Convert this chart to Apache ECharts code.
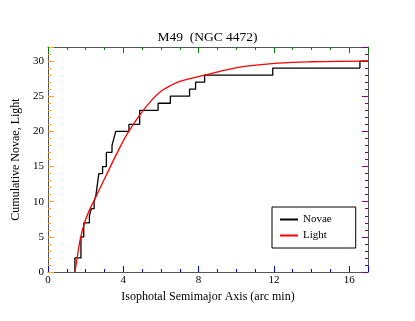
<!DOCTYPE html>
<html lang="en">
<head>
    <meta charset="utf-8">
    <title>M49 novae</title>
    <script src="https://cdn.jsdelivr.net/npm/echarts@6/dist/echarts.min.js"></script>
    <style type="text/css">
        html, body {
            width: 100%;
            height: 100%;
            margin: 0px;
            padding: 0px;
            background: #fff;
        }

        #main {
            width: 415px;
            height: 321px;
        }
    </style>
</head>
<body>
<div id="main"></div>
<script>
    // cumulative novae, step after each x
    var novaeX = [1.43, 1.43, 1.75, 1.9, 2.2, 2.3, 2.45, 2.55, 2.6, 2.7, 2.9, 3.1, 3.4, 3.5, 3.6, 4.3, 4.87, 5.85, 6.5, 7.52, 7.84, 8.32, 11.94, 16.57, 17];
    var novaeY = [0, 2, 5, 7, 8, 9, 10, 11, 12, 14, 15, 17, 18, 19, 20, 21, 23, 24, 25, 26, 27, 28, 29, 30, 30];

    // light curve (scaled to 30)
    var lightX = [1.43, 1.55, 1.7, 1.94, 2.2, 2.6, 3.1, 3.76, 4.2, 4.87, 5.5, 6.0, 6.5, 7.0, 8.3, 10.35, 12.2, 14, 17];
    var lightY = [0, 2, 4.5, 7, 8.8, 11, 13.8, 17.4, 19.6, 22.3, 24.4, 25.7, 26.5, 27.1, 28.0, 29.2, 29.7, 29.9, 30];

    function pairs(xs, ys) {
        return xs.map(function (x, i) { return [x, ys[i]]; });
    }

    var font = 'Liberation Serif';

    function tick(c) {
        return { show: true, inside: true, length: 6, lineStyle: { color: c, width: 1 } };
    }
    function minor(n, c) {
        return { show: true, splitNumber: n, length: 3, lineStyle: { color: c, width: 1 } };
    }

    var myChart = echarts.init(document.getElementById('main'));
    myChart.setOption({
        animation: false,
        title: {
            text: 'M49  (NGC 4472)',
            left: 'center',
            top: 25,
            textStyle: { fontFamily: font, fontSize: 13.5, fontWeight: 'normal', color: '#000' }
        },
        legend: {
            orient: 'vertical',
            left: 272,
            top: 207,
            padding: [7, 24, 7, 8],
            itemGap: 5,
            itemWidth: 18,
            itemHeight: 2,
            borderColor: '#000',
            borderWidth: 1,
            backgroundColor: '#fff',
            textStyle: { fontFamily: font, fontSize: 11, color: '#000' },
            data: [
                { name: 'Novae', icon: 'rect' },
                { name: 'Light', icon: 'rect' }
            ]
        },
        grid: { left: 48, right: 47, top: 47, bottom: 49 },
        xAxis: [
            {
                type: 'value', min: 0, max: 17, interval: 4,
                name: 'Isophotal Semimajor Axis (arc min)',
                nameLocation: 'middle',
                nameGap: 12,
                nameTextStyle: { fontFamily: font, fontSize: 12, color: '#000' },
                axisLine: { show: true, onZero: false },
                axisTick: tick('blue'),
                minorTick: minor(4, 'blue'),
                axisLabel: { fontFamily: font, fontSize: 11, color: '#000', margin: 3, showMaxLabel: false },
                splitLine: { show: false }
            },
            {
                type: 'value', position: 'top', min: 0, max: 17, interval: 4,
                axisLine: { show: true, onZero: false },
                axisTick: tick('green'),
                minorTick: minor(4, 'green'),
                axisLabel: { show: false },
                splitLine: { show: false }
            }
        ],
        yAxis: [
            {
                type: 'value', min: 0, max: 32, interval: 5,
                name: 'Cumulative Novae, Light',
                nameLocation: 'middle',
                nameGap: 15,
                nameTextStyle: { fontFamily: font, fontSize: 12, color: '#000' },
                axisLine: { show: true, onZero: false },
                axisTick: tick('orange'),
                minorTick: minor(5, 'orange'),
                axisLabel: { fontFamily: font, fontSize: 11, color: '#000', margin: 4, showMaxLabel: false },
                splitLine: { show: false }
            },
            {
                type: 'value', position: 'right', min: 0, max: 32, interval: 5,
                axisLine: { show: true, onZero: false },
                axisTick: tick('purple'),
                minorTick: minor(5, 'purple'),
                axisLabel: { show: false },
                splitLine: { show: false }
            }
        ],
        series: [
            {
                name: 'Novae',
                type: 'line',
                step: 'end',
                data: pairs(novaeX, novaeY),
                showSymbol: false,
                color: '#000',
                lineStyle: { color: '#000', width: 1.3 }
            },
            {
                name: 'Light',
                type: 'line',
                smooth: 0.4,
                data: pairs(lightX, lightY),
                showSymbol: false,
                color: '#ff0000',
                lineStyle: { color: '#ff0000', width: 1.3 }
            }
        ]
    });
</script>
</body>
</html>
